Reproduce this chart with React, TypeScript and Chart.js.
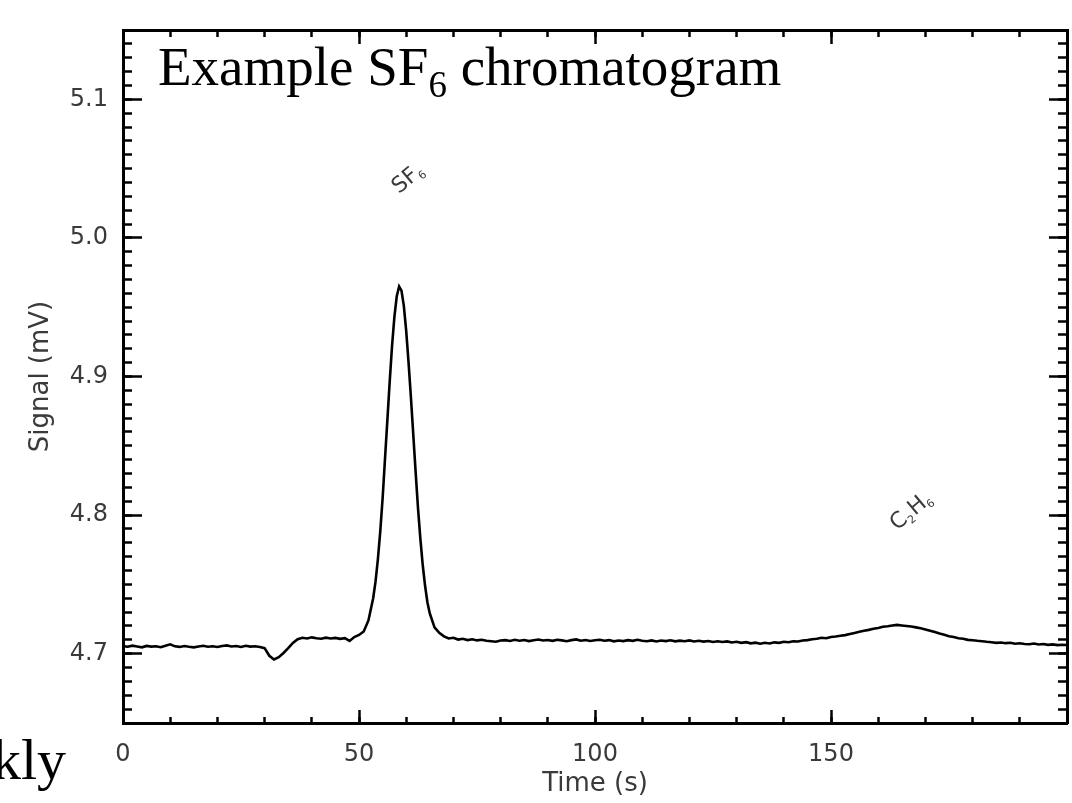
import React, { useEffect, useRef } from "react";
import { Chart, registerables } from "chart.js";

Chart.register(...registerables);

// ---------- data ----------
const timeS = [
  0, 1, 2, 3, 4, 5, 6, 7, 8, 9, 10, 11, 12, 13, 14, 15, 16, 17, 18, 19,
  20, 21, 22, 23, 24, 25, 26, 27, 28, 29, 30, 31, 32, 33, 34, 35, 36, 37, 38, 39,
  40, 41, 42, 43, 44, 45, 46, 47, 48, 49, 50, 51, 52, 53, 53.5, 54, 54.5, 55, 55.5, 56,
  56.5, 57, 57.5, 58, 58.5, 59, 59.5, 60, 60.5, 61, 61.5, 62, 62.5, 63, 63.5, 64, 64.5, 65, 66, 67,
  68, 69, 70, 71, 72, 73, 74, 75, 76, 77, 78, 79, 80, 81, 82, 83, 84, 85, 86, 87,
  88, 89, 90, 91, 92, 93, 94, 95, 96, 97, 98, 99, 100, 101, 102, 103, 104, 105, 106, 107,
  108, 109, 110, 111, 112, 113, 114, 115, 116, 117, 118, 119, 120, 121, 122, 123, 124, 125, 126, 127,
  128, 129, 130, 131, 132, 133, 134, 135, 136, 137, 138, 139, 140, 141, 142, 143, 144, 145, 146, 147,
  148, 149, 150, 151, 152, 153, 154, 155, 156, 157, 158, 159, 160, 161, 162, 163, 164, 165, 166, 167,
  168, 169, 170, 171, 172, 173, 174, 175, 176, 177, 178, 179, 180, 181, 182, 183, 184, 185, 186, 187,
  188, 189, 190, 191, 192, 193, 194, 195, 196, 197, 198, 199, 200,
];

const signalMv = [
  4.7055, 4.7050, 4.7058, 4.7052, 4.7046, 4.7056, 4.7051, 4.7054, 4.7047, 4.7058,
  4.7068, 4.7053, 4.7049, 4.7055, 4.7050, 4.7046, 4.7052, 4.7057, 4.7050, 4.7054,
  4.7048, 4.7056, 4.7060, 4.7052, 4.7055, 4.7049, 4.7057, 4.7051, 4.7054, 4.7048,
  4.7040, 4.6985, 4.6958, 4.6975, 4.7005, 4.7040, 4.7078, 4.7105, 4.7115, 4.7110,
  4.7118, 4.7112, 4.7108, 4.7116, 4.7110, 4.7114, 4.7107, 4.7112, 4.7092, 4.7120,
  4.7135, 4.7160, 4.7240, 4.7400, 4.7520, 4.7680, 4.7880, 4.8120, 4.8400, 4.8680,
  4.8960, 4.9220, 4.9430, 4.9580, 4.9650, 4.9620, 4.9510, 4.9330, 4.9100, 4.8850,
  4.8580, 4.8310, 4.8050, 4.7830, 4.7640, 4.7490, 4.7370, 4.7290, 4.7190, 4.7150,
  4.7125, 4.7110, 4.7115, 4.7102, 4.7108, 4.7098, 4.7104, 4.7096, 4.7101, 4.7094,
  4.7090, 4.7086, 4.7095, 4.7098, 4.7092, 4.7100, 4.7094, 4.7099, 4.7091, 4.7097,
  4.7102, 4.7095, 4.7099, 4.7093, 4.7101, 4.7096, 4.7090, 4.7098, 4.7103, 4.7094,
  4.7099, 4.7092, 4.7097, 4.7101, 4.7094, 4.7098, 4.7089, 4.7095, 4.7091, 4.7098,
  4.7093, 4.7100, 4.7094, 4.7090, 4.7096, 4.7088, 4.7095, 4.7091, 4.7097, 4.7089,
  4.7094, 4.7090, 4.7096, 4.7088, 4.7093, 4.7087, 4.7092, 4.7085, 4.7090, 4.7084,
  4.7089, 4.7081, 4.7086, 4.7078, 4.7083, 4.7075, 4.7080, 4.7072, 4.7079, 4.7074,
  4.7082, 4.7078, 4.7086, 4.7083, 4.7090, 4.7088, 4.7095, 4.7098, 4.7104, 4.7108,
  4.7115, 4.7112, 4.7120, 4.7124, 4.7130, 4.7134, 4.7142, 4.7150, 4.7158, 4.7165,
  4.7172, 4.7180, 4.7186, 4.7194, 4.7198, 4.7203, 4.7208, 4.7204, 4.7200, 4.7196,
  4.7190, 4.7183, 4.7175, 4.7166, 4.7156, 4.7145, 4.7136, 4.7126, 4.7120, 4.7112,
  4.7108, 4.7100, 4.7097, 4.7093, 4.7090, 4.7086, 4.7083, 4.7078, 4.7081, 4.7076,
  4.7079, 4.7072, 4.7075, 4.7070, 4.7068, 4.7073, 4.7066, 4.7070, 4.7064, 4.7067,
  4.7062, 4.7065, 4.7063,
];

// ---------- axes / ticks ----------
const xRange = [0, 200];
const yRange = [4.65, 5.15];
const xMajorTicks = [0, 50, 100, 150];
const xTickLabels = ["0", "50", "100", "150"];
const yMajorTicks = [4.7, 4.8, 4.9, 5.0, 5.1];
const yTickLabels = ["4.7", "4.8", "4.9", "5.0", "5.1"];
const xMinorStep = 10;
const yMinorStep = 0.01;

// ---------- text ----------
const titleMain = "Example SF";
const titleSub = "6";
const titleRest = " chromatogram";
const xTitle = "Time (s)";
const yTitle = "Signal (mV)";
const cutText = "kly";
// peak labels: pieces [text, isSubscript], anchored at (time, signal)
const peakLabelParts = [
  [["SF", false], ["6", true]],
  [["C", false], ["2", true], ["H", false], ["6", true]],
];
const peakLabelTime = [60.2, 166.8];
const peakLabelSignal = [5.044, 4.804];

const labelColor = "#3a3a3a";
const sansFamily = "'DejaVu Sans', sans-serif";

const peakLabelPlugin = {
  id: "peakLabels",
  afterDatasetsDraw(chart: any) {
    const { ctx, scales } = chart;
    const xs = scales.x;
    const ys = scales.y;
    peakLabelParts.forEach((parts: any[], i: number) => {
      const px = xs.getPixelForValue(peakLabelTime[i]);
      const py = ys.getPixelForValue(peakLabelSignal[i]);
      ctx.save();
      ctx.translate(px, py);
      ctx.rotate((-40 * Math.PI) / 180);
      ctx.fillStyle = labelColor;
      ctx.textBaseline = "alphabetic";
      ctx.textAlign = "left";
      let total = 0;
      parts.forEach(([t, sub]: any) => {
        ctx.font = `${sub ? 11 : 22}px ${sansFamily}`;
        total += ctx.measureText(t).width + (sub ? 1 : 0);
      });
      let cx = -total / 2;
      parts.forEach(([t, sub]: any) => {
        ctx.font = `${sub ? 11 : 22}px ${sansFamily}`;
        ctx.fillText(t, cx, sub ? 12 : 8);
        cx += ctx.measureText(t).width + (sub ? 1 : 0);
      });
      ctx.restore();
    });
  },
};

const noPad = (s: any) => {
  s.paddingTop = 0;
  s.paddingBottom = 0;
  s.paddingLeft = 0;
  s.paddingRight = 0;
};

export default function App() {
  const canvasRef = useRef<HTMLCanvasElement | null>(null);

  useEffect(() => {
    document.body.style.margin = "0";
    const canvas = canvasRef.current;
    if (!canvas) return;
    const points = timeS.map((t, i) => ({ x: t, y: signalMv[i] }));
    const tickFont = { family: sansFamily, size: 24 };
    const titleFont = { family: sansFamily, size: 26 };

    const majorTicksX = (s: any) => {
      s.ticks = xMajorTicks.map((v) => ({ value: v }));
    };
    const majorTicksY = (s: any) => {
      s.ticks = yMajorTicks.map((v) => ({ value: v }));
    };
    const fitH = (h: number) => (s: any) => {
      s.height = h;
      noPad(s);
    };
    const fitW = (w: number) => (s: any) => {
      s.width = w;
      noPad(s);
    };
    const tickGrid = (len: number) => ({
      drawOnChartArea: false,
      drawTicks: true,
      tickLength: -len,
      tickWidth: 2.5,
      tickColor: "#000",
    });
    const frame = { display: true, color: "#000", width: 3 };

    const chart = new Chart(canvas, {
      type: "line",
      data: {
        datasets: [
          {
            data: points,
            borderColor: "#000",
            borderWidth: 2.6,
            pointRadius: 0,
            tension: 0,
            fill: false,
            xAxisID: "x",
            yAxisID: "y",
          },
        ],
      },
      options: {
        animation: false,
        responsive: true,
        maintainAspectRatio: false,
        layout: { padding: { top: 30, right: 5, left: 0, bottom: 0 } },
        plugins: { legend: { display: false }, tooltip: { enabled: false } },
        scales: {
          x: {
            type: "linear",
            position: "bottom",
            weight: 1,
            min: xRange[0],
            max: xRange[1],
            afterBuildTicks: majorTicksX,
            afterFit: fitH(80),
            grid: tickGrid(13),
            border: frame,
            ticks: {
              color: labelColor,
              font: tickFont,
              padding: 30,
              maxRotation: 0,
              autoSkip: false,
              callback: (v: any) => xTickLabels[xMajorTicks.indexOf(v)] ?? "",
            },
            title: { display: true, text: xTitle, color: labelColor, font: titleFont, padding: { top: 3, bottom: 3 } },
          },
          xMinor: {
            type: "linear",
            position: "bottom",
            weight: 0,
            min: xRange[0],
            max: xRange[1],
            afterFit: fitH(0),
            grid: tickGrid(6),
            border: { display: false },
            ticks: { display: false, stepSize: xMinorStep, autoSkip: false },
          },
          xTop: {
            type: "linear",
            position: "top",
            weight: 1,
            min: xRange[0],
            max: xRange[1],
            afterBuildTicks: majorTicksX,
            afterFit: fitH(0),
            grid: tickGrid(14),
            border: frame,
            ticks: { display: false, autoSkip: false },
          },
          xTopMinor: {
            type: "linear",
            position: "top",
            weight: 0,
            min: xRange[0],
            max: xRange[1],
            afterFit: fitH(0),
            grid: tickGrid(7),
            border: { display: false },
            ticks: { display: false, stepSize: xMinorStep, autoSkip: false },
          },
          y: {
            type: "linear",
            position: "left",
            weight: 1,
            min: yRange[0],
            max: yRange[1],
            afterBuildTicks: majorTicksY,
            afterFit: fitW(123),
            grid: tickGrid(19),
            border: frame,
            ticks: {
              color: labelColor,
              font: tickFont,
              padding: 34,
              autoSkip: false,
              callback: (v: any) => yTickLabels[yMajorTicks.indexOf(v)] ?? "",
            },
            title: { display: true, text: yTitle, color: labelColor, font: titleFont, padding: { top: 26, bottom: 4 } },
          },
          yMinor: {
            type: "linear",
            position: "left",
            weight: 0,
            min: yRange[0],
            max: yRange[1],
            afterFit: fitW(0),
            grid: tickGrid(9),
            border: { display: false },
            ticks: { display: false, stepSize: yMinorStep, autoSkip: false },
          },
          yRight: {
            type: "linear",
            position: "right",
            weight: 1,
            min: yRange[0],
            max: yRange[1],
            afterBuildTicks: majorTicksY,
            afterFit: fitW(0),
            grid: tickGrid(18),
            border: frame,
            ticks: { display: false, autoSkip: false },
          },
          yRightMinor: {
            type: "linear",
            position: "right",
            weight: 0,
            min: yRange[0],
            max: yRange[1],
            afterFit: fitW(0),
            grid: tickGrid(9),
            border: { display: false },
            ticks: { display: false, stepSize: yMinorStep, autoSkip: false },
          },
        },
      } as any,
      plugins: [peakLabelPlugin],
    });
    return () => chart.destroy();
  }, []);

  return (
    <div style={{ position: "fixed", left: 0, top: 0, width: 1072, height: 803, background: "#fff", overflow: "hidden" }}>
      <canvas ref={canvasRef} />
      <div
        style={{
          position: "absolute",
          left: 158,
          top: 39,
          fontFamily: "'Liberation Serif', 'Times New Roman', serif",
          fontSize: 55,
          lineHeight: 1,
          color: "#000",
          whiteSpace: "nowrap",
        }}
      >
        {titleMain}
        <span style={{ fontSize: 37, verticalAlign: "-12px" }}>{titleSub}</span>
        {titleRest}
      </div>
      <div
        style={{
          position: "absolute",
          left: -8,
          top: 731,
          fontFamily: "'Liberation Serif', 'Times New Roman', serif",
          fontSize: 58,
          lineHeight: 1,
          color: "#000",
          whiteSpace: "nowrap",
        }}
      >
        {cutText}
      </div>
    </div>
  );
}
